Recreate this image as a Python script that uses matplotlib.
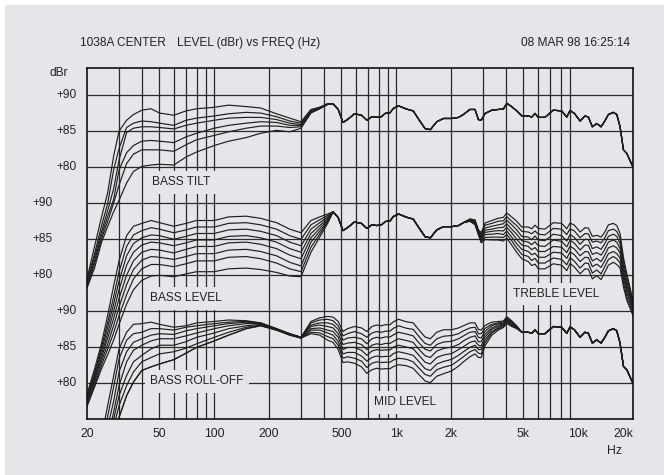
import matplotlib
matplotlib.use("Agg")
import matplotlib.pyplot as plt
import matplotlib.transforms as mtransforms
from matplotlib.patches import Rectangle
from matplotlib.ticker import NullLocator
import numpy as np

plt.rcParams['font.family'] = ['Liberation Sans', 'DejaVu Sans']

# frequency grid (Hz) shared by every trace
freq_hz = [20, 22, 24, 26, 28, 30, 33, 36, 40, 45, 50, 60, 70, 80, 100, 120, 150, 180,
           220, 260, 300, 340, 380, 420,
           450, 480, 510, 540, 590, 645, 690, 735, 780, 830, 870, 925, 965, 1030, 1140,
           1240, 1320, 1440, 1540, 1670, 1820, 2020, 2200, 2340, 2540, 2710, 2830, 2930,
           3080, 3350, 3640, 3880, 4050, 4310, 4590, 4900, 5320, 5550, 5790, 6040, 6560,
           7300, 8110, 8650, 9020, 9530, 10240, 10900, 11370, 11960, 12640, 13350, 13930,
           14650, 15600, 16290, 16980, 17720, 18500, 20000]

# common response from 450 Hz up (dBr)
base_db = [88.8, 88.0, 86.2, 86.6, 87.4, 87.2, 86.5, 87.0, 86.9, 87.0, 87.45, 87.55, 88.15,
           88.5, 88.05, 87.8, 86.75, 85.35, 85.2, 86.3, 86.75, 86.75, 86.9, 87.3, 88.0, 88.0,
           86.6, 86.5, 87.45, 87.9, 88.0, 88.05, 88.85, 88.4, 87.8, 87.1, 87.1, 86.95, 87.45,
           86.9, 86.9, 87.9, 87.8, 86.95, 87.85, 87.45, 86.4, 87.1, 86.95, 85.6, 86.05, 85.6,
           86.3, 87.3, 87.6, 87.3, 85.6, 82.4, 81.9, 80.0]

# BASS TILT: 20-420 Hz
tilt_bass = [
    [64.5, 69.0, 73.0, 76.5, 81.5, 85.0, 86.5, 87.3, 87.9, 88.1, 87.5, 87.2, 87.8, 88.1, 88.3, 88.6, 88.4, 88.2, 87.4, 86.8, 86.3, 88.0, 88.3, 88.8],
    [64.2, 68.0, 71.8, 75.0, 79.6, 82.6, 85.5, 86.1, 86.4, 86.3, 86.1, 85.8, 86.5, 86.8, 87.1, 87.4, 87.6, 87.5, 87.0, 86.4, 86.1, 87.9, 88.3, 88.8],
    [64.0, 67.5, 71.0, 74.0, 77.0, 81.0, 84.8, 85.4, 85.6, 85.6, 85.5, 85.3, 85.8, 86.1, 86.5, 86.8, 86.9, 86.9, 86.6, 86.1, 85.9, 87.8, 88.2, 88.7],
    [63.8, 67.0, 70.5, 73.2, 75.5, 79.6, 82.0, 83.0, 83.6, 83.7, 83.6, 83.4, 84.2, 84.7, 85.4, 85.8, 86.1, 86.3, 86.2, 85.8, 85.8, 87.7, 88.2, 88.7],
    [63.5, 66.5, 70.0, 72.5, 75.0, 77.5, 80.5, 81.8, 82.4, 82.4, 82.4, 82.2, 83.1, 83.8, 84.4, 84.9, 85.4, 85.7, 85.7, 85.5, 85.6, 87.6, 88.1, 88.7],
    [63.2, 66.0, 69.5, 71.8, 73.8, 75.4, 77.8, 79.4, 80.1, 80.3, 80.4, 80.3, 81.4, 82.1, 83.0, 83.6, 84.1, 84.7, 85.1, 84.9, 85.4, 87.5, 88.1, 88.7],
]

# BASS LEVEL: 20-420 Hz
level_bass = [
    [63.5, 67.0, 70.5, 74.5, 78.5, 82.0, 85.5, 86.8, 87.2, 87.6, 87.3, 86.8, 87.2, 87.6, 87.6, 88.1, 88.2, 87.9, 87.3, 86.4, 85.9, 87.6, 88.1, 88.5],
    [63.2, 66.5, 70.0, 73.5, 77.0, 80.5, 84.0, 85.6, 86.2, 86.6, 86.4, 85.9, 86.3, 86.7, 86.7, 87.2, 87.3, 87.0, 86.4, 85.5, 85.0, 87.0, 87.7, 88.3],
    [63.0, 66.2, 69.5, 72.8, 76.0, 79.2, 82.7, 84.4, 85.2, 85.6, 85.5, 85.0, 85.4, 85.8, 85.8, 86.3, 86.4, 86.1, 85.5, 84.6, 84.1, 86.4, 87.3, 88.1],
    [62.8, 65.8, 69.0, 72.0, 75.0, 78.0, 81.4, 83.2, 84.2, 84.6, 84.5, 84.1, 84.5, 84.9, 84.9, 85.4, 85.5, 85.2, 84.6, 83.7, 83.2, 85.8, 86.9, 87.9],
    [62.5, 65.5, 68.5, 71.3, 74.0, 76.8, 80.0, 82.0, 83.2, 83.6, 83.5, 83.1, 83.6, 84.0, 84.0, 84.5, 84.6, 84.3, 83.7, 82.8, 82.3, 85.2, 86.5, 87.7],
    [62.3, 65.2, 68.0, 70.5, 73.0, 75.6, 78.7, 80.8, 82.1, 82.6, 82.5, 82.2, 82.6, 83.0, 83.0, 83.5, 83.6, 83.3, 82.7, 81.8, 81.3, 84.6, 86.1, 87.5],
    [62.0, 64.8, 67.5, 69.8, 72.0, 74.4, 77.3, 79.5, 80.9, 81.5, 81.5, 81.2, 81.6, 82.0, 82.0, 82.5, 82.6, 82.3, 81.7, 80.9, 80.5, 83.9, 85.7, 87.4],
    [61.8, 64.5, 67.0, 69.0, 71.0, 73.2, 76.0, 78.0, 79.3, 79.9, 80.0, 79.8, 80.2, 80.5, 80.5, 80.9, 81.0, 80.8, 80.4, 79.9, 79.8, 83.2, 85.3, 87.2],
]

# TREBLE LEVEL: change against base_db, 2540 Hz - 20 kHz
treble_dev = [
    [-0.2, -0.3, -0.3, -0.6, -0.2, -0.3, -0.1, 0.0, -0.2, -0.3, -0.3, -0.4, -0.4, -0.5, -0.5, -0.4, -0.5, -0.6, -0.6, -0.5, -0.6, -0.5, -0.4, -0.5, -0.4, -0.2, -0.5, -0.3, -0.4, -0.3, -0.4, -0.4, 0.2, 0.1, -1.7, -3.5],
    [-0.2, -0.4, -0.4, -0.8, -0.5, -0.7, -0.5, -0.5, -0.7, -0.9, -0.9, -1.0, -1.1, -1.2, -1.3, -1.2, -1.3, -1.4, -1.4, -1.3, -1.4, -1.3, -1.2, -1.3, -1.2, -1.0, -1.3, -1.1, -1.2, -1.1, -1.2, -1.2, -0.5, -0.5, -2.2, -3.8],
    [-0.3, -0.5, -0.5, -1.0, -0.9, -1.1, -1.0, -0.9, -1.2, -1.4, -1.5, -1.7, -1.8, -2.0, -2.0, -2.0, -2.1, -2.2, -2.3, -2.2, -2.2, -2.2, -2.1, -2.1, -2.0, -1.9, -2.1, -2.0, -2.0, -1.9, -1.9, -1.9, -1.2, -1.1, -2.8, -4.1],
    [-0.3, -0.6, -0.6, -1.2, -1.2, -1.5, -1.4, -1.4, -1.7, -2.0, -2.1, -2.3, -2.5, -2.7, -2.8, -2.8, -2.9, -3.0, -3.1, -3.0, -3.0, -3.0, -2.9, -2.9, -2.8, -2.7, -2.9, -2.8, -2.8, -2.7, -2.7, -2.7, -1.9, -1.7, -3.3, -4.4],
    [-0.4, -0.7, -0.7, -1.4, -1.5, -1.8, -1.8, -1.9, -2.2, -2.5, -2.8, -2.9, -3.1, -3.4, -3.6, -3.6, -3.6, -3.9, -3.9, -3.8, -3.8, -3.8, -3.7, -3.8, -3.7, -3.6, -3.7, -3.7, -3.6, -3.5, -3.5, -3.5, -2.5, -2.2, -3.8, -4.7],
    [-0.4, -0.8, -0.8, -1.6, -1.8, -2.2, -2.2, -2.4, -2.7, -3.1, -3.4, -3.5, -3.8, -4.1, -4.4, -4.4, -4.4, -4.7, -4.7, -4.6, -4.6, -4.6, -4.5, -4.6, -4.5, -4.4, -4.5, -4.5, -4.4, -4.3, -4.3, -4.3, -3.2, -2.8, -4.3, -5.0],
    [-0.5, -0.9, -0.9, -1.8, -2.2, -2.6, -2.7, -2.8, -3.2, -3.6, -4.0, -4.2, -4.5, -4.9, -5.1, -5.2, -5.2, -5.5, -5.6, -5.5, -5.4, -5.5, -5.4, -5.4, -5.3, -5.3, -5.3, -5.4, -5.2, -5.1, -5.0, -5.0, -3.9, -3.4, -4.9, -5.3],
    [-0.5, -1.0, -1.0, -2.0, -2.5, -3.0, -3.1, -3.3, -3.7, -4.2, -4.6, -4.8, -5.2, -5.6, -5.9, -6.0, -6.0, -6.3, -6.4, -6.3, -6.2, -6.3, -6.2, -6.2, -6.1, -6.1, -6.1, -6.2, -6.0, -5.9, -5.8, -5.8, -4.6, -4.0, -5.4, -5.6],
]

# BASS ROLL-OFF: 20-420 Hz (last two share the same roll-off)
rolloff_bass = [
    [64.0, 68.0, 72.5, 77.0, 81.0, 84.8, 87.1, 88.2, 88.3, 88.5, 88.2, 87.8, 88.0, 88.4, 88.6, 88.8, 88.7, 88.4, 87.6, 86.9, 86.4, 88.6, 89.1, 89.3],
    [63.5, 67.5, 71.5, 75.5, 79.5, 83.4, 86.0, 86.9, 87.1, 87.6, 87.6, 87.4, 87.8, 88.0, 88.3, 88.5, 88.6, 88.4, 87.6, 86.9, 86.4, 88.4, 88.8, 88.9],
    [63.5, 67.0, 70.5, 74.0, 77.5, 81.6, 84.4, 85.7, 86.2, 86.7, 86.9, 86.8, 87.3, 87.6, 88.0, 88.3, 88.5, 88.3, 87.5, 86.9, 86.4, 88.1, 88.4, 88.4],
    [63.0, 66.0, 69.5, 72.5, 76.0, 79.7, 83.0, 84.6, 85.3, 85.9, 86.2, 86.2, 86.6, 87.0, 87.6, 88.0, 88.3, 88.3, 87.5, 86.8, 86.4, 87.9, 88.1, 87.9],
    [62.5, 65.5, 68.5, 71.5, 75.0, 78.3, 81.1, 83.0, 83.9, 84.8, 85.3, 85.3, 85.8, 86.4, 87.0, 87.6, 88.0, 88.2, 87.5, 86.8, 86.3, 87.6, 87.7, 87.4],
    [62.0, 65.0, 68.0, 71.0, 74.0, 76.9, 79.7, 81.6, 83.0, 83.6, 84.1, 84.4, 84.9, 85.5, 86.4, 87.1, 87.8, 88.1, 87.4, 86.8, 86.3, 87.4, 87.4, 87.0],
    [62.0, 64.5, 67.0, 70.0, 73.0, 75.3, 78.3, 80.2, 81.8, 82.3, 82.7, 83.3, 84.2, 85.0, 85.9, 86.7, 87.6, 88.0, 87.4, 86.7, 86.3, 87.1, 87.0, 86.5],
    [62.0, 64.5, 67.0, 70.0, 73.0, 75.3, 78.3, 80.2, 81.8, 82.3, 82.7, 83.3, 84.2, 85.0, 85.9, 86.7, 87.6, 88.0, 87.4, 86.7, 86.3, 86.9, 86.7, 86.0],
]

# MID LEVEL: change against base_db, 450 Hz - 4590 Hz
mid_dev = [
    [0.4, 0.6, 1.0, 1.0, 0.5, 0.5, 0.7, 0.9, 1.2, 1.0, 0.7, 0.6, 0.4, 0.4, 0.5, 0.6, 0.8, 1.1, 1.0, 0.8, 0.7, 0.7, 0.8, 0.7, 0.4, 0.4, 0.9, 0.9, 0.6, 0.6, 0.6, 0.6, 0.4, 0.3, 0.2],
    [-0.1, 0.0, 0.4, 0.3, -0.2, -0.3, -0.1, 0.0, 0.3, 0.1, -0.2, -0.3, -0.5, -0.5, -0.4, -0.3, -0.1, 0.2, 0.1, -0.1, -0.2, -0.1, 0.0, 0.0, -0.3, -0.2, 0.3, 0.4, 0.2, 0.3, 0.4, 0.5, 0.3, 0.2, 0.1],
    [-0.6, -0.5, -0.2, -0.3, -1.0, -1.0, -1.0, -0.8, -0.5, -0.7, -1.0, -1.1, -1.4, -1.4, -1.2, -1.2, -1.0, -0.6, -0.7, -0.9, -1.0, -0.9, -0.7, -0.7, -0.9, -0.8, -0.2, -0.2, -0.2, 0.1, 0.3, 0.3, 0.1, 0.1, 0.1],
    [-1.1, -1.1, -0.8, -1.0, -1.7, -1.8, -1.8, -1.7, -1.4, -1.6, -1.9, -2.0, -2.3, -2.3, -2.1, -2.1, -1.9, -1.5, -1.6, -1.8, -1.9, -1.7, -1.5, -1.4, -1.6, -1.4, -0.8, -0.7, -0.6, -0.2, 0.1, 0.2, 0.0, 0.0, 0.0],
    [-1.6, -1.6, -1.5, -1.6, -2.4, -2.6, -2.6, -2.5, -2.2, -2.4, -2.8, -2.9, -3.1, -3.2, -3.0, -3.0, -2.7, -2.4, -2.5, -2.7, -2.8, -2.6, -2.2, -2.2, -2.3, -2.1, -1.3, -1.3, -1.0, -0.4, -0.1, 0.1, -0.1, -0.2, 0.0],
    [-2.1, -2.2, -2.1, -2.3, -3.1, -3.4, -3.4, -3.4, -3.1, -3.3, -3.7, -3.8, -4.0, -4.1, -3.9, -3.9, -3.6, -3.3, -3.4, -3.6, -3.7, -3.4, -3.0, -2.9, -3.0, -2.7, -1.9, -1.8, -1.4, -0.7, -0.3, 0.0, -0.2, -0.3, -0.1],
    [-2.6, -2.7, -2.7, -2.9, -3.9, -4.1, -4.3, -4.2, -3.9, -4.1, -4.5, -4.6, -4.9, -5.0, -4.7, -4.8, -4.5, -4.1, -4.2, -4.4, -4.5, -4.2, -3.7, -3.6, -3.6, -3.3, -2.4, -2.4, -1.8, -0.9, -0.4, -0.2, -0.4, -0.4, -0.1],
    [-3.1, -3.3, -3.3, -3.6, -4.6, -4.9, -5.1, -5.1, -4.8, -5.0, -5.4, -5.5, -5.8, -5.9, -5.6, -5.7, -5.4, -5.0, -5.1, -5.3, -5.4, -5.0, -4.5, -4.3, -4.3, -3.9, -3.0, -2.9, -2.2, -1.2, -0.6, -0.3, -0.5, -0.5, -0.2],
]

tick_hz = [20, 50, 100, 200, 500, 1000, 2000, 5000, 10000, 20000]
tick_labels = ['20', '50', '100', '200', '500', '1k', '2k', '5k', '10k', '20k']
level_labels = ['+90', '+85', '+80']
group_shift = [0, -15, -30]   # the three panels share one axis, 15 dB apart

BG = '#e5e6ea'
INK = '#1e1e1e'
W, H = 664, 475


def main():
    f = np.array(freq_hz, dtype=float)
    base = np.array(base_db)
    nb = len(f) - len(base)
    mid0 = nb
    treble0 = len(f) - len(treble_dev[0])

    fig = plt.figure(figsize=(W / 100, H / 100), dpi=100)
    fig.patch.set_facecolor('white')
    fig.patches.append(Rectangle((5 / W, 0), 1, 1 - 5 / H, transform=fig.transFigure,
                                 facecolor=BG, edgecolor='none', zorder=-10))
    ax = fig.add_axes([87 / W, 1 - 418.5 / H, 546 / W, 350.5 / H])
    ax.set_facecolor(BG)
    ax.set_xscale('log')
    ax.set_xlim(20, 20000)
    ax.set_ylim(45.14, 93.75)

    # grid
    grid_f = [m * 10 ** d for d in (1, 2, 3) for m in range(1, 10) if 20 < m * 10 ** d < 20000]
    ax.vlines(grid_f, 45.14, 93.75, color='#2a2a2a', lw=0.9, zorder=1)
    ax.hlines(np.arange(50, 91, 5), 20, 20000, color='#2a2a2a', lw=0.9, zorder=3)
    for s in ax.spines.values():
        s.set_linewidth(1.2)
        s.set_color('#111111')
        s.set_zorder(6)

    # traces
    for row in tilt_bass:
        y = np.concatenate([row, base])
        ax.plot(f, y + group_shift[0], color=INK, lw=0.85, zorder=4)
    for k in range(len(level_bass)):
        y = np.concatenate([level_bass[k], base])
        y[treble0:] += np.array(treble_dev[k])
        ax.plot(f, y + group_shift[1], color=INK, lw=0.85, zorder=4)
    for k in range(len(rolloff_bass)):
        y = np.concatenate([rolloff_bass[k], base])
        y[mid0:mid0 + len(mid_dev[k])] += np.array(mid_dev[k])
        ax.plot(f, y + group_shift[2], color=INK, lw=0.85, zorder=4)

    # panel labels, their boxes hide the grid behind them
    box = dict(boxstyle='square,pad=0.45', facecolor=BG, edgecolor='none')
    lab = dict(fontsize=8.6, color='#222222', va='center', ha='left', bbox=box)
    ax.text(45.5, 77.9, 'BASS TILT', zorder=2, **lab)
    ax.text(44.4, 61.8, 'BASS LEVEL', zorder=2, **lab)
    ax.text(44.4, 50.3, 'BASS ROLL-OFF', zorder=3.5, **lab)
    ax.text(4400, 62.4, 'TREBLE LEVEL', zorder=2, **lab)
    ax.text(757, 47.4, 'MID LEVEL', zorder=2, **lab)

    # y labels
    trans = mtransforms.blended_transform_factory(fig.transFigure, ax.transData)
    for g, shift in enumerate(group_shift):
        xr = 53 / W if g == 1 else 77 / W
        for j, txt in enumerate(level_labels):
            ax.text(xr, 90 - 5 * j + shift, txt, transform=trans, ha='right', va='center',
                    fontsize=8.6, color='#222222')

    ax.set_yticks([])
    ax.set_xticks(tick_hz)
    ax.set_xticklabels(tick_labels)
    ax.xaxis.set_minor_locator(NullLocator())
    ax.tick_params(axis='x', length=0, pad=7, labelsize=8.8, labelcolor='#222222')
    ax.get_xticklabels()[-1].set_ha('right')

    fig.text(80 / W, 1 - 43 / H, '1038A CENTER', fontsize=8.6, va='center', color='#222222')
    fig.text(177 / W, 1 - 43 / H, 'LEVEL (dBr) vs FREQ (Hz)', fontsize=8.6, va='center',
             color='#222222')
    fig.text(630 / W, 1 - 43 / H, '08 MAR 98 16:25:14', fontsize=8.6, va='center',
             ha='right', color='#222222')
    fig.text(68 / W, 1 - 73 / H, 'dBr', fontsize=8.6, va='center', ha='right', color='#222222')
    fig.text(614 / W, 1 - 451 / H, 'Hz', fontsize=8.8, va='center', ha='center', color='#222222')

    fig.savefig('out.png', dpi=100, facecolor=fig.get_facecolor())


if __name__ == "__main__":
    main()
